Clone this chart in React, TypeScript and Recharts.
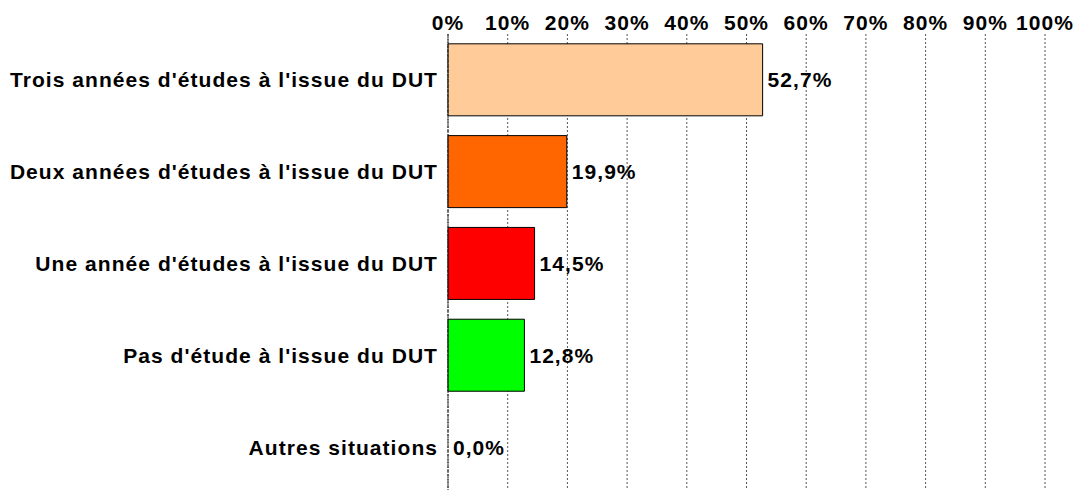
import { Bar, BarChart, CartesianGrid, Cell, LabelList, XAxis, YAxis } from 'recharts'

const categories = [
  "Trois années d'études à l'issue du DUT",
  "Deux années d'études à l'issue du DUT",
  "Une année d'études à l'issue du DUT",
  "Pas d'étude à l'issue du DUT",
  'Autres situations',
]
const shares = [52.7, 19.9, 14.5, 12.8, 0]
const barColors = ['#FFCC99', '#FF6600', '#FF0000', '#00FF00', '#CCCCCC']
const xTicks = [0, 10, 20, 30, 40, 50, 60, 70, 80, 90, 100]

const data = categories.map((name, i) => ({ name, value: shares[i] }))

const FONT = '"Liberation Sans", Arial, sans-serif'
const textStyle = { fontSize: 21, fontWeight: 700, fill: '#000', fontFamily: FONT, letterSpacing: 1.05 }

const formatPct = (v: number) => `${Number(v).toFixed(1).replace('.', ',')}%`

// draws the value right of the bar, also for the zero bar
function ValueLabel(props: any) {
  const { x, y, width, height, value } = props
  if (value == null) return null
  const w = Number(value) === 0 ? 0 : Number(width || 0)
  return (
    <text x={Number(x) + w + 5} y={Number(y) + Number(height) / 2} dy="0.36em" textAnchor="start" {...textStyle}>
      {formatPct(value)}
    </text>
  )
}

export default function App() {
  return (
    <div style={{ position: 'absolute', left: 0, top: 0, width: 1079, height: 490, overflow: 'hidden', background: '#fff' }}>
      <BarChart
        width={1079}
        height={493}
        data={data}
        layout="vertical"
        margin={{ top: 0, right: 34, left: 0, bottom: 0 }}
        barCategoryGap="10.7%"
      >
        <CartesianGrid vertical horizontal={false} stroke="#555" strokeDasharray="2 2" />
        <XAxis
          type="number"
          orientation="top"
          domain={[0, 100]}
          ticks={xTicks}
          tickFormatter={(v) => `${v}%`}
          axisLine={false}
          tickLine={false}
          tickSize={0}
          tickMargin={4}
          height={34}
          interval={0}
          tick={textStyle}
        />
        <YAxis
          type="category"
          dataKey="name"
          width={448}
          tickLine={false}
          tickSize={0}
          tickMargin={10}
          axisLine={{ stroke: '#222', strokeDasharray: '4 1' }}
          tick={textStyle}
          interval={0}
        />
        <Bar dataKey="value" strokeWidth={1} isAnimationActive={false} minPointSize={0.01}>
          {data.map((d, i) => (
            <Cell key={d.name} fill={d.value === 0 ? 'none' : barColors[i]} stroke={d.value === 0 ? 'none' : '#000'} />
          ))}
          <LabelList dataKey="value" content={ValueLabel} />
        </Bar>
      </BarChart>
    </div>
  )
}
